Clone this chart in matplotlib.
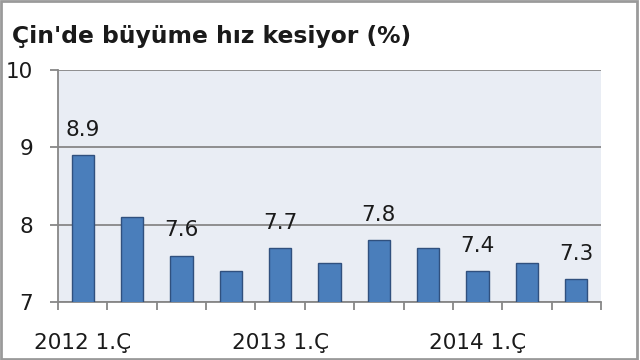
import numpy as np
import matplotlib
matplotlib.use("Agg")
import matplotlib.pyplot as plt
from matplotlib.patches import Rectangle

# quarterly growth, 2012 Q1 .. 2014 Q3
values = [8.9, 8.1, 7.6, 7.4, 7.7, 7.5, 7.8, 7.7, 7.4, 7.5, 7.3]
shown_labels = {0: "8.9", 2: "7.6", 4: "7.7", 6: "7.8", 8: "7.4", 10: "7.3"}
tick_pos = [0, 4, 8]
tick_labels = ["2012 1.Ç", "2013 1.Ç", "2014 1.Ç"]
y_ticks = [7, 8, 9, 10]

plt.rcParams['font.family'] = ['DejaVu Sans']

fig = plt.figure(figsize=(6.4, 3.6), dpi=100)
fig.patch.set_facecolor("white")
# axes: left 58px, right 601px, top 70px, bottom 302px
ax = fig.add_axes([58/640, 1 - 302/360, (601-58)/640, (302-70)/360])
ax.set_facecolor("#e9edf4")

x = np.arange(len(values))
ax.bar(x, values, width=0.45, bottom=0, color="#4a7ebb", edgecolor="#30507e", linewidth=1.0, zorder=3)

for i, lab in shown_labels.items():
    ax.annotate(lab, (x[i], values[i]), xytext=(0, 11), textcoords="offset points",
                ha="center", va="bottom", fontsize=15.5, color="#1a1a1a", zorder=4)

ax.set_ylim(7, 10)
ax.set_xlim(-0.5, len(values) - 0.5)
ax.set_yticks(y_ticks)
ax.set_yticklabels([str(v) for v in y_ticks], fontsize=15.5, color="#1a1a1a")
ax.yaxis.grid(True, color="#878787", linewidth=1.3, zorder=1)
ax.tick_params(axis="y", length=6, width=1.3, color="#878787", pad=12)

ax.set_xticks(tick_pos)
ax.set_xticklabels(tick_labels, fontsize=15.5, color="#1a1a1a")
ax.set_xticks(np.arange(len(values) + 1) - 0.5, minor=True)
ax.tick_params(axis="x", which="major", length=0, pad=22)
ax.tick_params(axis="x", which="minor", length=6, width=1.3, color="#878787")

for s in ["top", "right"]:
    ax.spines[s].set_visible(False)
for s in ["left", "bottom"]:
    ax.spines[s].set_color("#878787")
    ax.spines[s].set_linewidth(1.3)

fig.text(12/640, 1 - 43/360, "Çin'de büyüme hız kesiyor (%)", fontsize=16.8, fontweight="bold",
         color="#1a1a1a", ha="left", va="baseline")

# outer frame around the picture
fig.patches.append(Rectangle((0.002, 0.004), 0.994, 0.992, transform=fig.transFigure,
                             fill=False, edgecolor="#9a9a9a", linewidth=2))

fig.savefig("out.png", dpi=100)
